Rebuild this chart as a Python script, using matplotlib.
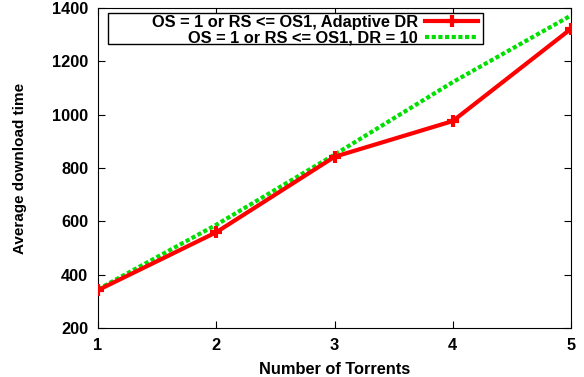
import matplotlib
matplotlib.use("Agg")
import matplotlib.pyplot as plt
from matplotlib.patches import Rectangle

plt.rcParams['font.family'] = ['Liberation Sans', 'DejaVu Sans']
plt.rcParams['font.weight'] = 'bold'

# data
torrents = [1, 2, 3, 4, 5]
adaptive_dr = [342, 559, 842, 976, 1322]
fixed_dr = [345, 587, 850, 1122, 1372]

label_adaptive = "OS = 1 or RS <= OS1, Adaptive DR"
label_fixed = "OS = 1 or RS <= OS1, DR = 10"

fig = plt.figure(figsize=(5.84, 3.77), dpi=100)
ax = fig.add_axes([98 / 584, 1 - 328 / 377, (571 - 98) / 584, (328 - 8) / 377])

ax.plot(torrents, adaptive_dr, color='#ff0000', lw=3, marker='+', ms=9, mew=3,
        label=label_adaptive, zorder=3)
ax.plot(torrents, fixed_dr, color='#00e000', lw=3, ls=(0, (1, 0.6)),
        label=label_fixed, zorder=2)

ax.set_xlim(1, 5)
ax.set_ylim(200, 1400)
ax.set_xticks(torrents)
ax.set_yticks(range(200, 1401, 200))
ax.tick_params(direction='in', top=True, right=True, labelsize=11.8, length=5, pad=7)
for lab in ax.get_xticklabels() + ax.get_yticklabels():
    lab.set_fontweight('bold')

ax.set_xlabel("Number of Torrents", fontsize=11.8, fontweight='bold', labelpad=7)
ax.set_ylabel("Average download time", fontsize=11, fontweight='bold', labelpad=18)

# gnuplot-style key: wide box, text right-aligned, sample line on the right
leg = ax.legend(loc='upper right', bbox_to_anchor=(0.808, 0.987), markerfirst=False,
                frameon=False, fontsize=11.8, borderpad=0.15, labelspacing=0.05,
                handlelength=3.2, handletextpad=0.45, borderaxespad=0)
leg.set_zorder(5)
for t in leg.get_texts():
    t.set_ha('right')
    t.set_fontweight('bold')
ax.add_patch(Rectangle((0.021, 0.8875), 0.793, 0.097, transform=ax.transAxes,
                       facecolor='white', edgecolor='black', lw=1, zorder=4))

fig.savefig("out.png", dpi=100)
